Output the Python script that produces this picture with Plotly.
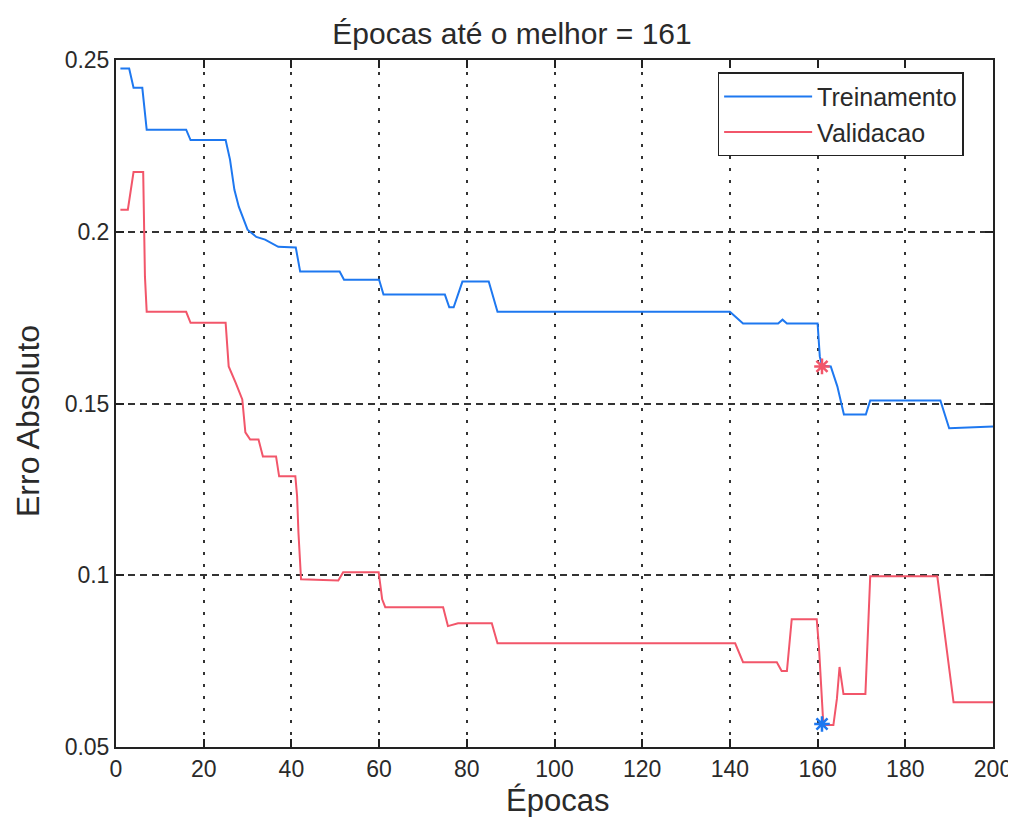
import plotly.graph_objects as go

# Training (Treinamento) curve breakpoints
train_epochs = [1, 3, 4, 6, 7, 16, 17, 25, 26, 27, 28, 30, 32, 34, 37, 41, 42, 51, 52, 60, 61, 75, 76, 77, 79, 85, 87,
                140, 143, 151, 152, 153, 160, 160.5, 161, 163, 164.5, 166, 171, 172, 188, 190, 200]
train_vals = [0.2475, 0.2475, 0.2419, 0.2419, 0.2297, 0.2297, 0.2267, 0.2267, 0.221, 0.2122, 0.2073, 0.2006, 0.1985,
              0.1977, 0.1956, 0.1954, 0.1884, 0.1884, 0.186, 0.186, 0.1817, 0.1817, 0.178, 0.178, 0.1855, 0.1855, 0.1767,
              0.1767, 0.1733, 0.1733, 0.1744, 0.1733, 0.1733, 0.1637, 0.161, 0.1608, 0.155, 0.1468, 0.1468, 0.1509,
              0.1509, 0.1428, 0.1433]

# Validation (Validacao) curve breakpoints
val_epochs = [1, 2.7, 4, 6.2, 6.6, 7, 16, 17, 25, 25.7, 27.3, 28.8, 29.5, 30.6, 32.5, 33.5, 36.5, 37.2, 40.9, 41.3,
              41.6, 42.2, 50.7, 51.8, 59.9, 60.7, 61.4, 74.6, 75.7, 78, 85.7, 87, 141.2, 143, 150.7, 151.8, 153,
              154.1, 159.8, 160.3, 161.2, 161.4, 163.6, 164.4, 165, 165.9, 170.9, 172, 187.3, 191, 200]
val_vals = [0.2064, 0.2064, 0.2174, 0.2174, 0.187, 0.1767, 0.1767, 0.1735, 0.1735, 0.1608, 0.156, 0.1512, 0.1416,
            0.1395, 0.1395, 0.1346, 0.1346, 0.1288, 0.1288, 0.123, 0.1125, 0.0988, 0.0985, 0.1009, 0.1009, 0.093,
            0.0907, 0.0907, 0.0852, 0.086, 0.086, 0.0802, 0.0802, 0.0747, 0.0747, 0.0721, 0.0721, 0.0872, 0.0872,
            0.0793, 0.059, 0.0564, 0.0564, 0.064, 0.0733, 0.0654, 0.0654, 0.0997, 0.0997, 0.063, 0.063]

best_epoch = 161
best_train = 0.1608
best_val = 0.0567

x_ticks = [0, 20, 40, 60, 80, 100, 120, 140, 160, 180, 200]
y_ticks = [0.05, 0.1, 0.15, 0.2, 0.25]
y_labels = ["0.05", "0.1", "0.15", "0.2", "0.25"]

title_text = "Épocas até o melhor = 161"
x_title = "Épocas"
y_title = "Erro Absoluto"

BLUE = "#1E78F0"
RED = "#F2566A"
FONT = "Liberation Sans"
TXT = "#2a2a2a"

fig = go.Figure()
fig.add_trace(go.Scatter(x=train_epochs, y=train_vals, mode="lines", name="Treinamento",
                         line=dict(color=BLUE, width=2)))
fig.add_trace(go.Scatter(x=val_epochs, y=val_vals, mode="lines", name="Validacao",
                         line=dict(color=RED, width=2)))
fig.add_trace(go.Scatter(x=[best_epoch], y=[best_train], mode="markers", showlegend=False,
                         marker=dict(symbol="asterisk-open", size=13, color=RED,
                                     line=dict(color=RED, width=2.5))))
fig.add_trace(go.Scatter(x=[best_epoch], y=[best_val], mode="markers", showlegend=False,
                         marker=dict(symbol="asterisk-open", size=13, color=BLUE,
                                     line=dict(color=BLUE, width=2.5))))

fig.update_layout(
    width=1008, height=809,
    margin=dict(l=108, r=23, t=52, b=70, autoexpand=False),
    paper_bgcolor="white", plot_bgcolor="white",
    font=dict(family=FONT, color=TXT, size=23),
    title=dict(text=title_text, x=0.5, xref="container", xanchor="center",
               y=0.969, yref="container", yanchor="middle",
               font=dict(size=30, family=FONT, color=TXT)),
    legend=dict(x=0.686, y=0.982, xanchor="left", yanchor="top", bgcolor="white",
                bordercolor="#222", borderwidth=1.5, font=dict(size=25, family=FONT, color=TXT),
                itemwidth=88, tracegroupgap=0),
    annotations=[
        dict(text=x_title, xref="paper", yref="paper", x=0.503, y=0, yshift=-53,
             xanchor="center", yanchor="middle", showarrow=False, font=dict(size=31, family=FONT, color=TXT)),
        dict(text=y_title, xref="paper", yref="paper", x=0, xshift=-88, y=0.4745, textangle=-90,
             xanchor="center", yanchor="middle", showarrow=False, font=dict(size=32, family=FONT, color=TXT)),
    ],
)
fig.update_xaxes(range=[0, 200], tickvals=x_ticks, ticks="inside", ticklen=8, tickcolor="#222", tickwidth=1.5,
                 showline=True, linecolor="#222", linewidth=2, mirror="ticks", automargin=False,
                 showgrid=True, gridcolor="#333", gridwidth=1.8, griddash="3px,9px", zeroline=False,
                 tickfont=dict(size=23))
fig.update_yaxes(range=[0.05, 0.25], tickvals=y_ticks, ticktext=y_labels, ticks="inside", ticklen=8,
                 tickcolor="#222", tickwidth=1.5,
                 showline=True, linecolor="#222", linewidth=2, mirror="ticks", automargin=False,
                 showgrid=True, gridcolor="#333", gridwidth=1.8, griddash="7px,5px", zeroline=False,
                 tickfont=dict(size=23))

fig.write_html("out.html")
